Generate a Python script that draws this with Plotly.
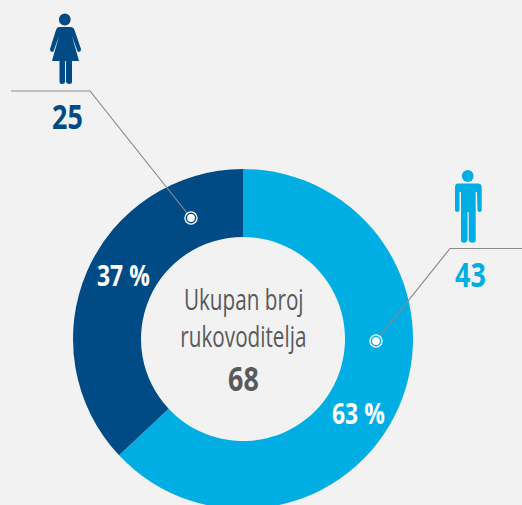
import plotly.graph_objects as go

# Data
categories = ["Muškarci", "Žene"]
percent_values = [63, 37]
count_labels = ["43", "25"]
percent_labels = ["63 %", "37 %"]
center_lines = ["Ukupan broj", "rukovoditelja"]
center_total = "68"

# Style
W, H = 522, 520
BG = "#f2f2f2"
LIGHT = "#00aee3"
DARK = "#004b85"
GREY_TEXT = "#58595b"
LINE = "#8a8a8a"
FONT = "Open Sans"

fig = go.Figure()
fig.add_trace(go.Pie(
    labels=categories, values=percent_values, hole=0.6, sort=False, direction="clockwise",
    rotation=0, textinfo="none", hoverinfo="label+percent",
    marker=dict(colors=[LIGHT, DARK], line=dict(width=0)),
    domain=dict(x=[73 / W, 413 / W], y=[(H - 509) / H, (H - 169) / H]),
    showlegend=False,
))

def text(x, y, s, size, color, bold=True):
    fig.add_annotation(x=x, y=y, xref="x", yref="y", text=s,
                       showarrow=False, xanchor="center", yanchor="middle",
                       font=dict(family=FONT, size=size, color=color, weight=700 if bold else 400))

text(67, 115.5, count_labels[1], 34, DARK)
text(470, 273.5, count_labels[0], 34, LIGHT)
text(123, 274, percent_labels[1], 29, "#ffffff")
text(358, 412, percent_labels[0], 29, "#ffffff")
text(243, 298, center_lines[0], 30, GREY_TEXT, bold=False)
text(243, 335.5, center_lines[1], 30, GREY_TEXT, bold=False)
text(243, 377.5, center_total, 34, GREY_TEXT)

def path(d, fill=None, line=None, width=0):
    fig.add_shape(type="path", path=d, xref="x", yref="y", layer="above",
                  fillcolor=fill if fill else "rgba(0,0,0,0)",
                  line=dict(color=line if line else "rgba(0,0,0,0)", width=width))

def circle(cx, cy, r, fill):
    fig.add_shape(type="circle", xref="x", yref="y", layer="above", x0=cx - r, x1=cx + r,
                  y0=cy - r, y1=cy + r, fillcolor=fill, line=dict(width=0))

# Leader lines
path("M 11 91 L 90 91 L 187 213", line=LINE, width=1.2)
path("M 522 248.5 L 450 248.5 L 380 336", line=LINE, width=1.2)

# Callout dots
for (cx, cy, col) in [(191, 218, DARK), (376, 341, LIGHT)]:
    circle(cx, cy, 6.7, "#ffffff")
    circle(cx, cy, 5.4, col)
    circle(cx, cy, 3.9, "#ffffff")

# Woman icon
circle(64.8, 19.5, 5.9, DARK)
path("M 59 27 L 70.5 27 Q 73.5 27 74.5 30 L 81 49 Q 81.3 51.5 79 52 Q 77.5 52 77 50 "
     "L 72 36 L 79 61 L 72 61 L 72 81.5 Q 72 84 69.5 84 Q 66.5 84 66 81.5 L 66 61 L 65 61 "
     "L 65 81.5 Q 65 84 62 84 Q 59.5 84 59.5 81.5 L 59.5 61 L 52 61 L 59 36 L 54 50 "
     "Q 53.5 52 52 52 Q 49.7 51.5 50 49 L 56 30 Q 57 27 59 27 Z", fill=DARK)

# Man icon
circle(467.7, 176, 5.9, LIGHT)
path("M 458 183.5 L 478 183.5 Q 481.7 183.5 481.7 187.5 L 481.7 210 Q 481.7 212 479.7 212 "
     "Q 477.5 212 477.5 210 L 477 192 L 475.7 192 L 475.7 240 Q 475.7 242.8 472.5 242.8 "
     "Q 469 242.8 468.7 240 L 468.7 212 L 467.5 212 L 467.5 240 Q 467 242.8 464 242.8 "
     "Q 461 242.8 461 240 L 461 192 L 459.5 192 L 459.5 210 Q 459.5 212 457.3 212 "
     "Q 455 212 455 210 L 455 187.5 Q 455 183.5 458 183.5 Z", fill=LIGHT)

hidden = dict(visible=False, fixedrange=True)
fig.update_layout(
    width=W, height=H, margin=dict(l=0, r=0, t=0, b=0, pad=0),
    paper_bgcolor=BG, plot_bgcolor="rgba(0,0,0,0)",
    xaxis=dict(range=[0, W], domain=[0, 1], **hidden),
    yaxis=dict(range=[H, 0], domain=[0, 1], **hidden),
)
fig.write_html(
    "out.html",
    config=dict(displayModeBar=False),
    post_script="document.documentElement.style.overflow='hidden';"
                "document.documentElement.style.background='%s';"
                "document.body.style.margin='0';document.body.style.overflow='hidden';"
                "document.querySelectorAll('.annotation-text').forEach(function(t){"
                "var k=parseInt(getComputedStyle(t).fontWeight)>=700?0.79:0.69;"
                "t.style.transformBox='fill-box';t.style.transformOrigin='center';"
                "t.style.transform='scaleX('+k+')';});" % BG,
)
